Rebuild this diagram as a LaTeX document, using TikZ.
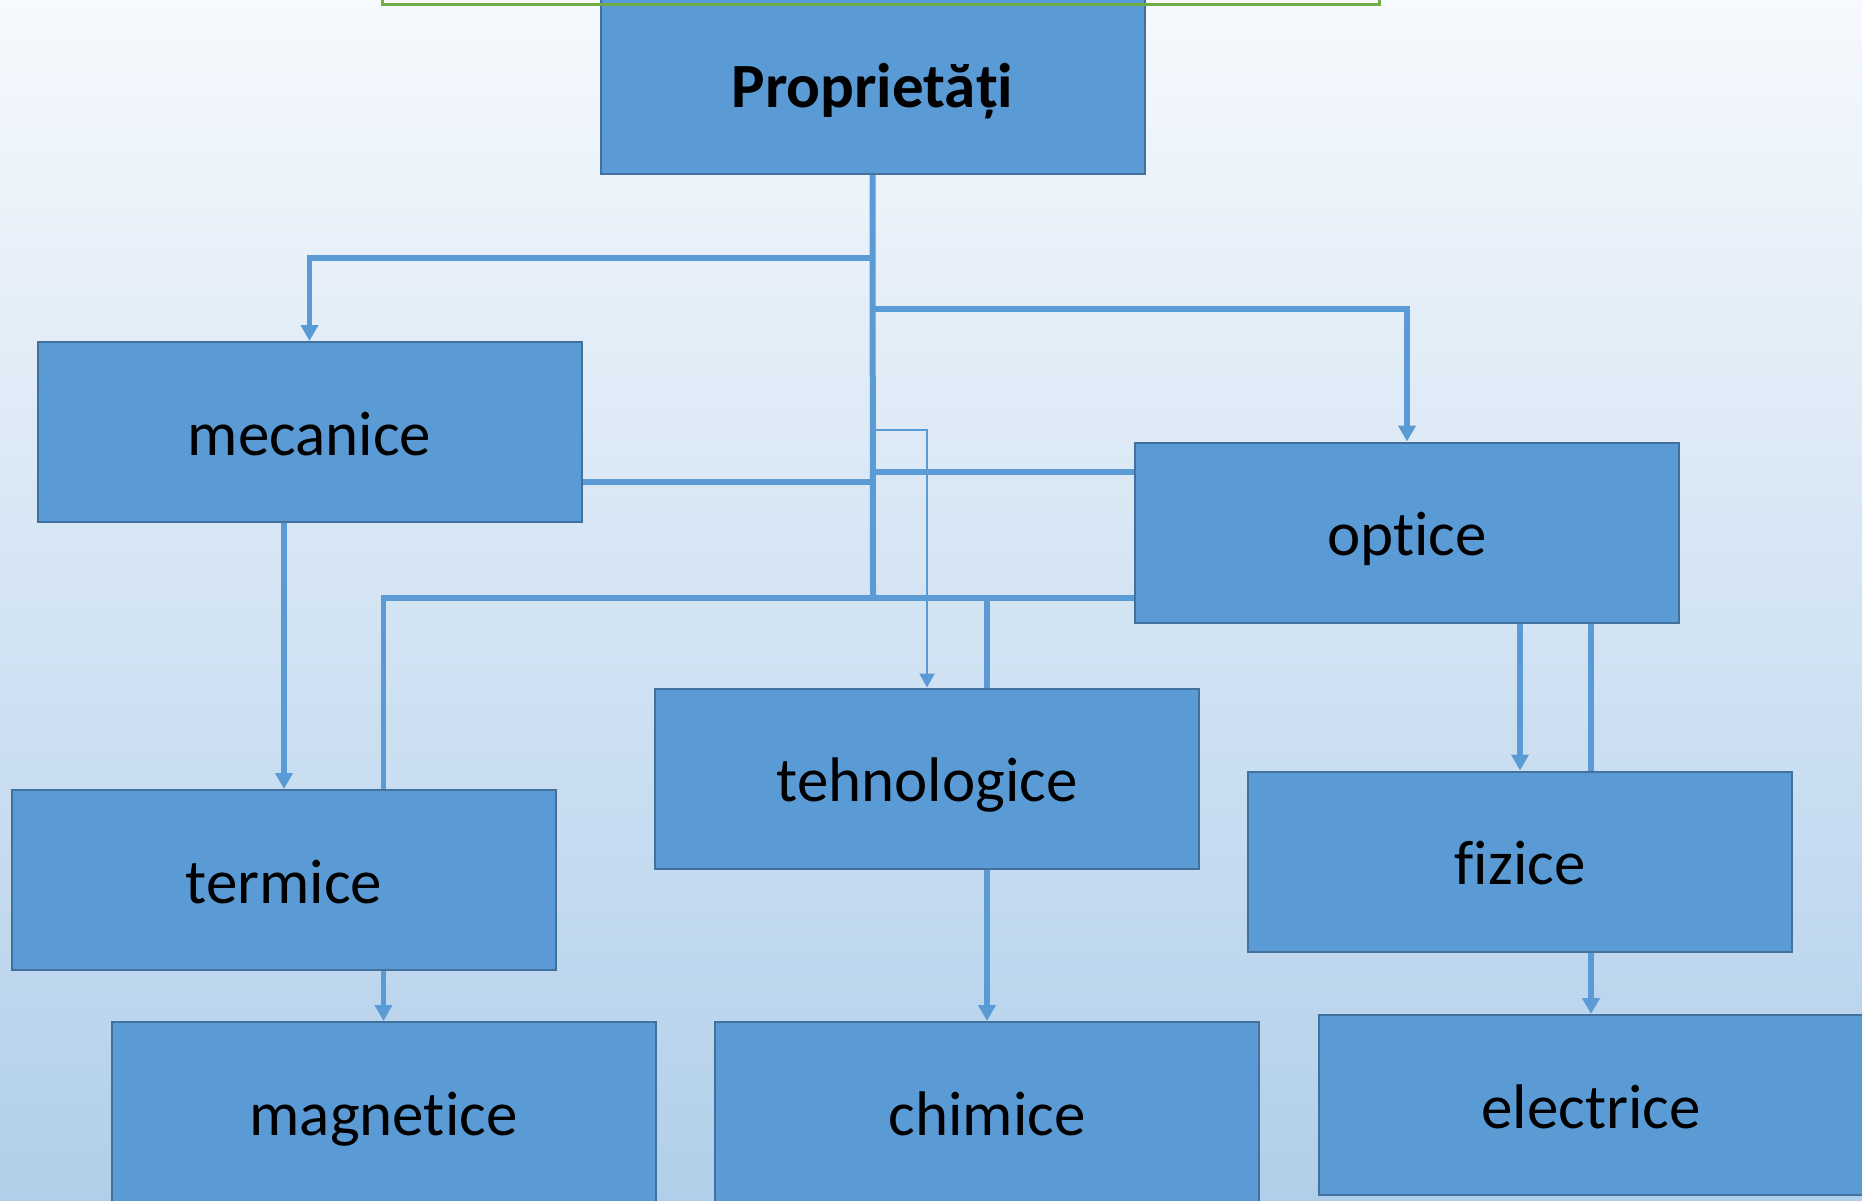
\documentclass[tikz,border=0pt]{standalone}
\usepackage{fontspec}
\setmainfont{Carlito}[RawFeature={-liga,-clig,-dlig,-calt}]
\usetikzlibrary{arrows.meta}
% zero kern that keeps two letters apart as separate glyphs
\newcommand\glyphsep{\kern0pt{}}
\definecolor{boxfill}{HTML}{5B9BD5}
\definecolor{boxline}{HTML}{41719C}
\definecolor{linkc}{HTML}{5B9BD5}
\definecolor{framegreen}{HTML}{70AD47}
\definecolor{bgtop}{HTML}{F6F9FD}
\definecolor{bgbot}{HTML}{B1CFEA}
\tikzset{
  catbox/.style={draw=boxline, line width=2pt, fill=boxfill, minimum width=544pt,
    minimum height=180pt, inner sep=0pt, text=black, text height=50pt, text depth=4pt,
    font=\fontsize{63pt}{75pt}\selectfont},
  conn/.style={draw=linkc, line width=5.5pt},
  arr/.style={conn, -{Triangle[width=17pt,length=16pt]}},
  thinarr/.style={draw=linkc, line width=2.3pt, -{Triangle[width=15pt,length=14pt]}}
}
\begin{document}
\begin{tikzpicture}[x=1pt, y=-1pt]
\useasboundingbox (0,0) rectangle (1862,1200);
\shade[top color=bgtop, bottom color=bgbot] (0,0) rectangle (1862,1200);

% boxes
\node[catbox, font=\fontsize{63pt}{75pt}\selectfont\bfseries] (prop) at (872.5,84) {Proprietă\glyphsep ț\glyphsep i};
\node[catbox] (mec)  at (309.5,432)  {mecanice};
\node[catbox] (opt)  at (1407,532.5) {opt\glyphsep ice};
\node[catbox] (teh)  at (927,778.5)  {tehnologice};
\node[catbox] (term) at (284,880)    {termice};
\node[catbox] (fiz)  at (1520,861.5) {f\glyphsep izice};
\node[catbox] (mag)  at (383.5,1112) {magnet\glyphsep ice};
\node[catbox] (chim) at (987,1112)   {chimice};
\node[catbox] (elec) at (1591,1105)  {electrice};

% title frame
\draw[framegreen, line width=3pt] (382,-20) rectangle (1379,4);

% junction points on the trunk
\coordinate (jm)   at (873,258);
\coordinate (jo)   at (873,309);
\coordinate (jt)   at (873,430);
\coordinate (jol)  at (873,472);
\coordinate (jmr)  at (873,482);
\coordinate (hub)  at (873,598);
\coordinate (hubL) at (383.5,598);
\coordinate (hubT) at (987,598);

% trunk and branches
\draw[conn, line width=6pt] (prop.south) -- (hub);
\draw[arr] (jm) -| (mec.north);
\draw[arr] (jo) -| (opt.north);
\draw[thinarr] (jt) -| (teh.north);
\draw[conn] (mec.east |- jmr) -- (jmr);
\draw[conn] (opt.west |- jol) -- (jol);
\draw[conn] (opt.west |- hub) -- (hubL) -- (hubL |- term.north);
\draw[conn] (hubT) -- (hubT |- teh.north);

% vertical links between levels
\draw[arr] (mec.south -| term.north) -- (term.north);
\draw[arr] (term.south -| mag.north) -- (mag.north);
\draw[arr] (teh.south -| chim.north) -- (chim.north);
\draw[arr] (opt.south -| fiz.north) -- (fiz.north);
\draw[conn] (opt.south -| elec.north) -- (fiz.north -| elec.north);
\draw[arr] (fiz.south -| elec.north) -- (elec.north);
\end{tikzpicture}
\end{document}
